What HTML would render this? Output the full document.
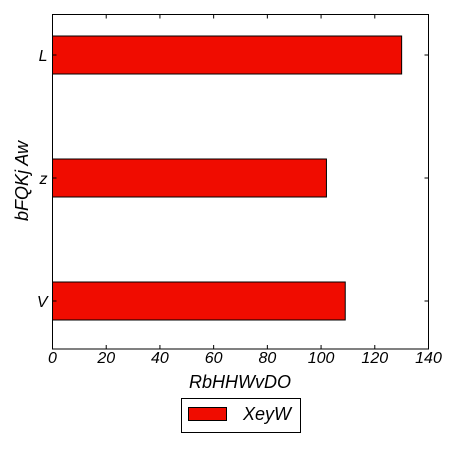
<!DOCTYPE html>
<html><head><meta charset="utf-8"><style>body{margin:0;background:#fff}svg{font-family:"Liberation Sans",sans-serif;font-style:italic}</style></head>
<body>
<svg width="456" height="456" id="c"></svg>
<script>
const categories=["V","z","L"];
const values=[109,102,130];
const xTicks=[0,20,40,60,80,100,120,140];
const svg=document.getElementById('c');const NS='http://www.w3.org/2000/svg';
const L=52.5,R=428.5,T=14.5,B=349;
const x=v=>L+(v/140)*(R-L);
const y=i=>301-i*123;
function mk(t,a,p){const e=document.createElementNS(NS,t);for(const k in a)e.setAttribute(k,a[k]);(p||svg).appendChild(e);return e;}
categories.forEach((c,i)=>{
 const b=mk('rect',{x:L,y:y(i)-19,width:x(values[i])-L,height:38,fill:'#f00c00',stroke:'#000','stroke-width':1});
 
 
 const tk=mk('path',{d:`M${L} ${y(i)}h4M${R} ${y(i)}h-4`,stroke:'#000'});
 
 
 const t=mk('text',{x:L-5,y:y(i)+6,'text-anchor':'end','font-size':16});t.textContent=c;
 
 
});
xTicks.forEach(v=>{
 const tk=mk('path',{d:`M${x(v)} ${B}v-4M${x(v)} ${T}v4`,stroke:'#000'});
 
 
 const t=mk('text',{x:x(v),y:363,'text-anchor':'middle','font-size':16});t.textContent=v;
 
 
});
const fr=mk('rect',{x:L,y:T,width:R-L,height:B-T,fill:'none',stroke:'#000','stroke-width':1});


</script>
<div style="position:absolute;left:0;top:0;width:456px;height:456px;pointer-events:none">
<svg width="456" height="456" style="position:absolute;left:0;top:0;font-family:'Liberation Sans',sans-serif;font-style:italic">
<text x="240" y="388" text-anchor="middle" font-size="18">RbHHWvDO</text>
<text transform="translate(28,181) rotate(-90)" text-anchor="middle" font-size="18">bFQKj Aw</text>
<g>
<rect x="181.5" y="398.5" width="119" height="34" fill="#fff" stroke="#000"/>
<rect x="188.5" y="407.5" width="38" height="13" fill="#f00c00" stroke="#000"/>
<text x="243" y="420" font-size="18">XeyW</text>
</g>
</svg></div>
</body></html>
